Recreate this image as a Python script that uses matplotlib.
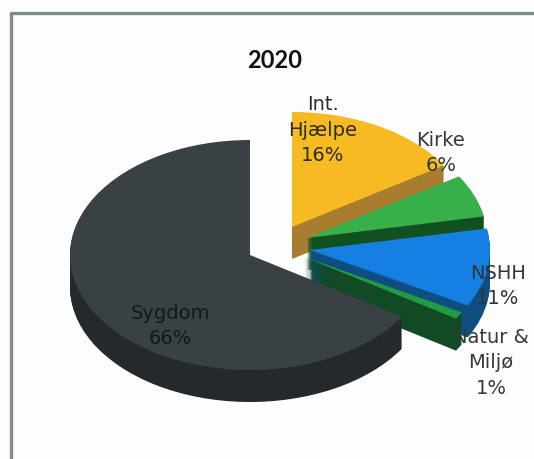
import numpy as np
import matplotlib
matplotlib.use("Agg")
import matplotlib.pyplot as plt
from matplotlib.patches import Wedge

# Valeurs (%)
title = "2020"
categories = ["Int.\nHjælpe", "Kirke", "NSHH", "Natur &\nMiljø", "Sygdom"]
values = [16, 6, 11, 1, 66]
top_colors = ["#f6bb22", "#37b04b", "#1580e2", "#229c42", "#3a4144"]
side_colors = ["#a97d30", "#11501f", "#0f4f80", "#114a24", "#24292b"]

# centre of each slice on the page, in pixels
centers_px = [(292, 227), (307, 238), (310, 250), (304, 257), (250, 255)]
label_px = [(323, 130), (441, 153), (498, 286), (491, 363), (170, 326)]
label_colors = ["#2f2c22", "#303a34", "#2a363c", "#333a36", "#15181a"]

W, H = 534, 459
RX, RY = 180.0, 115.0
DEPTH = 32


def to_unit(px, py):
    # pixels vers coordonnees du pie (ellipse = cercle unite)
    return (px - 250) / RX, (255 - py) / RY


fig = plt.figure(figsize=(W / 100, H / 100), dpi=100, facecolor="#fdfdfd")
ax = fig.add_axes([0, 0, 1, 1])
ax.set_xlim(to_unit(0, 0)[0], to_unit(W, 0)[0])
ax.set_ylim(to_unit(0, H)[1], to_unit(0, 0)[1])
ax.axis("off")

# slices, clockwise from 12 o'clock
edges = 90 - 3.6 * np.cumsum([0] + values)
for i in range(len(values)):
    cx, cy = to_unit(*centers_px[i])
    for d in range(DEPTH, 0, -1):
        ax.add_patch(Wedge((cx, cy - d / RY), 1, edges[i + 1], edges[i],
                           fc=side_colors[i], ec="none"))
    ax.add_patch(Wedge((cx, cy), 1, edges[i + 1], edges[i],
                       fc=top_colors[i], ec="none"))

for name, val, (px, py), col in zip(categories, values, label_px, label_colors):
    x, y = to_unit(px, py)
    ax.text(x, y, "%s\n%d%%" % (name, val), color=col, ha="center", va="center",
            fontsize=14, linespacing=1.42, family="DejaVu Sans")

x, y = to_unit(275, 60)
ax.text(x, y, title, fontsize=17, fontweight="bold", family="Lato",
        color="#111111", ha="center", va="center")

# cadre du graphique
xs = [to_unit(p, 0)[0] for p in (11, 11, 534)]
ys = [to_unit(0, p)[1] for p in (H, 12.5, 12.5)]
ax.plot(xs, ys, color="#7f8c90", lw=2.4)

fig.savefig("out.png", dpi=100, facecolor=fig.get_facecolor())
